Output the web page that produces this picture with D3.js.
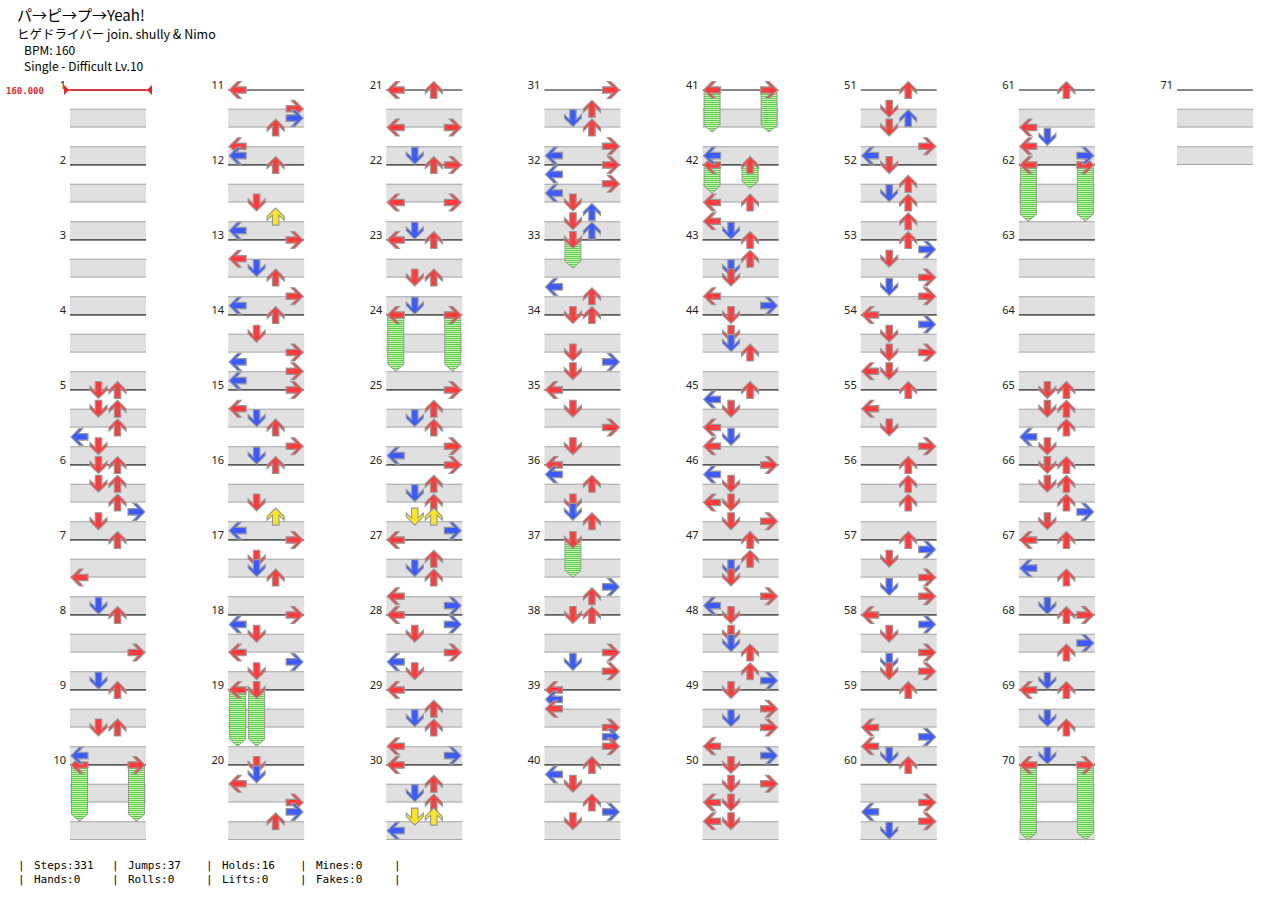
<!DOCTYPE html>
<html><head><meta charset="utf-8">
<script src="https://cdn.jsdelivr.net/npm/d3@7"></script>
<style>body{margin:0;background:#fff}svg{display:block}</style>
</head><body>
<script>
const titleLines = ["パ→ピ→プ→Yeah!", "ヒゲドライバー join. shully & Nimo", "BPM: 160", "Single - Difficult  Lv.10"];
const measureCount = 71;
const bpmLabel = "160.000";
// notes: [measure, 16th position, lane(0=L,1=D,2=U,3=R)]
const notes = [
[5,0,1],[5,0,2],[5,4,1],[5,4,2],[5,8,2],[5,10,0],[5,12,1],
[6,0,1],[6,0,2],[6,4,1],[6,4,2],[6,8,2],[6,10,3],[6,12,1],
[7,0,2],[7,8,0],[7,14,1],
[8,0,2],[8,8,3],[8,14,1],
[9,0,2],[9,8,1],[9,8,2],[9,14,0],
[11,0,0],[11,4,3],[11,6,3],[11,8,2],[11,12,0],[11,14,0],
[12,0,2],[12,8,1],[12,11,2],[12,14,0],
[13,0,3],[13,4,0],[13,6,1],[13,8,2],[13,12,3],[13,14,0],
[14,0,2],[14,4,1],[14,8,3],[14,10,0],[14,12,3],[14,14,0],
[15,0,3],[15,4,0],[15,6,1],[15,8,2],[15,12,3],[15,14,1],
[16,0,2],[16,8,1],[16,11,2],[16,14,0],
[17,0,3],[17,4,1],[17,6,1],[17,8,2],
[18,0,3],[18,2,0],[18,4,1],[18,8,0],[18,10,3],[18,12,1],
[20,0,1],[20,2,1],[20,4,0],[20,8,3],[20,10,3],[20,12,2],
[21,0,0],[21,0,2],[21,8,0],[21,8,3],[21,14,1],
[22,0,2],[22,0,3],[22,8,0],[22,8,3],[22,14,1],
[23,0,0],[23,0,2],[23,8,1],[23,8,2],[23,14,1],
[25,0,3],[25,4,2],[25,6,1],[25,8,2],[25,12,3],[25,14,0],
[26,0,3],[26,4,2],[26,6,1],[26,8,2],[26,11,1],[26,11,2],[26,14,3],
[27,0,0],[27,4,2],[27,6,1],[27,8,2],[27,12,0],[27,14,3],
[28,0,0],[28,2,3],[28,4,1],[28,8,3],[28,10,0],[28,12,1],
[29,0,0],[29,4,2],[29,6,1],[29,8,2],[29,12,0],[29,14,3],
[30,0,0],[30,4,2],[30,6,1],[30,8,2],[30,11,1],[30,11,2],[30,14,0],
[31,0,3],[31,4,2],[31,6,1],[31,8,2],[31,12,3],[31,14,0],
[32,0,3],[32,2,0],[32,4,3],[32,6,0],[32,8,1],[32,10,2],[32,12,1],[32,14,2],
[33,10,0],[33,12,2],
[34,0,1],[34,0,2],[34,8,1],[34,10,3],[34,12,1],
[35,0,0],[35,4,1],[35,8,3],[35,12,1],
[36,0,0],[36,2,0],[36,4,2],[36,8,1],[36,10,1],[36,12,2],
[37,10,3],[37,12,2],
[38,0,1],[38,0,2],[38,8,3],[38,10,1],[38,12,3],
[39,0,0],[39,2,0],[39,4,0],[39,8,3],[39,10,3],[39,12,3],
[40,0,2],[40,2,0],[40,4,1],[40,8,2],[40,10,3],[40,12,1],
[41,14,0],
[42,8,0],[42,8,2],[42,12,0],[42,14,1],
[43,0,2],[43,4,2],[43,6,1],[43,8,1],[43,12,0],[43,14,3],
[44,0,1],[44,4,1],[44,6,1],[44,8,2],
[45,0,2],[45,2,0],[45,4,1],[45,8,0],[45,10,1],[45,12,0],
[46,0,3],[46,2,0],[46,4,1],[46,8,0],[46,8,1],[46,12,1],[46,12,3],
[47,0,2],[47,4,2],[47,6,1],[47,8,1],[47,12,3],[47,14,0],
[48,0,1],[48,4,1],[48,6,1],[48,8,2],[48,12,2],[48,14,3],
[49,0,1],[49,4,3],[49,6,1],[49,8,3],[49,12,0],[49,14,3],
[50,0,1],[50,4,1],[50,4,3],[50,8,0],[50,8,1],[50,12,0],[50,12,1],
[51,0,2],[51,4,1],[51,6,2],[51,8,1],[51,12,3],[51,14,0],
[52,0,1],[52,4,2],[52,6,1],[52,8,2],[52,12,2],
[53,0,2],[53,2,3],[53,4,1],[53,8,3],[53,10,1],[53,12,3],
[54,0,0],[54,2,3],[54,4,1],[54,8,1],[54,8,3],[54,12,0],[54,12,1],
[55,0,2],[55,4,0],[55,8,1],[55,12,3],
[56,0,2],[56,4,2],[56,8,2],
[57,0,2],[57,2,3],[57,4,1],[57,8,3],[57,10,1],[57,12,3],
[58,0,0],[58,2,3],[58,4,1],[58,8,3],[58,10,1],[58,12,1],[58,12,3],
[59,0,2],[59,8,0],[59,10,3],[59,12,0],[59,14,1],
[60,0,2],[60,8,3],[60,10,0],[60,12,3],[60,14,1],
[61,0,2],[61,8,0],[61,10,1],[61,12,0],[61,14,3],
[65,0,1],[65,0,2],[65,4,1],[65,4,2],[65,8,2],[65,10,0],[65,12,1],
[66,0,1],[66,0,2],[66,4,1],[66,4,2],[66,8,2],[66,10,3],[66,12,1],
[67,0,0],[67,0,2],[67,6,0],[67,8,2],[67,14,1],
[68,0,2],[68,0,3],[68,6,3],[68,8,2],[68,14,1],
[69,0,0],[69,0,2],[69,6,1],[69,8,2],[69,14,1]
];
// holds: [measure, 16th position, lane, length in 16ths]
const holds = [
[10,0,0,12],[10,0,3,12],[19,0,0,12],[19,0,1,12],[24,0,0,12],[24,0,3,12],
[33,0,1,6],[37,0,1,8],[41,0,0,9],[41,0,3,9],[42,0,0,6],[42,0,2,5],
[62,0,0,12],[62,0,3,12],[70,0,0,16],[70,0,3,16]
];
const statsRow1 = ["Steps:331","Jumps:37","Holds:16","Mines:0"];
const statsRow2 = ["Hands:0","Rolls:0","Lifts:0","Fakes:0"];

const W=1280,H=901;
const svg=d3.select("body").append("svg").attr("width",W).attr("height",H);
const defs=svg.append("defs");
const pat=defs.append("pattern").attr("id","hp").attr("patternUnits","userSpaceOnUse").attr("width",4).attr("height",2);
pat.append("rect").attr("width",4).attr("height",2).attr("fill","#c8f5b0");
pat.append("rect").attr("width",4).attr("height",1).attr("fill","#5ccf4a");

const perCol=10;
const colX=d3.scaleLinear().domain([0,7]).range([70,1177]);
const yT=d3.scaleLinear().domain([0,10]).range([90,840]);
const laneX=d3.scaleBand().domain([0,1,2,3]).range([0,76]);
const colW=76, beat=75/4;
function pos(m,p){const c=Math.floor((m-1)/perCol);const t=(m-1)%perCol+p/16;return {x:colX(c),y:yT(t)};}

// title
const tt=svg.append("g").attr("font-family","'Noto Sans CJK JP','Noto Sans',sans-serif").attr("fill","#000");
tt.append("text").attr("x",17).attr("y",21).attr("font-size",15).text(titleLines[0]);
tt.append("text").attr("x",17).attr("y",39).attr("font-size",12.5).text(titleLines[1]);
tt.append("text").attr("x",24).attr("y",55).attr("font-size",12).text(titleLines[2]);
tt.append("text").attr("x",24).attr("y",71).attr("font-size",12).text(titleLines[3]);

// measures
const mg=svg.append("g");
d3.range(1,measureCount+1).forEach(m=>{
  const p=pos(m,0);
  [1,3].forEach(b=>{
    mg.append("rect").attr("x",p.x).attr("y",p.y+b*beat).attr("width",colW).attr("height",beat).attr("fill","#e0e0e0");
    mg.append("line").attr("x1",p.x).attr("x2",p.x+colW).attr("y1",p.y+b*beat+0.5).attr("y2",p.y+b*beat+0.5).attr("stroke","#a8a8a8");
    mg.append("line").attr("x1",p.x).attr("x2",p.x+colW).attr("y1",p.y+(b+1)*beat-0.5).attr("y2",p.y+(b+1)*beat-0.5).attr("stroke","#a8a8a8");
  });
  mg.append("line").attr("x1",p.x).attr("x2",p.x+colW).attr("y1",p.y).attr("y2",p.y).attr("stroke","#111").attr("stroke-width",1.2);
  mg.append("text").attr("x",p.x-4).attr("y",p.y-1).attr("text-anchor","end").attr("font-family","'Noto Sans',sans-serif").attr("font-size",11).attr("fill","#222").text(m);
});
// bpm marker
const b0=pos(1,0);
svg.append("line").attr("x1",b0.x-6).attr("x2",b0.x+82).attr("y1",b0.y).attr("y2",b0.y).attr("stroke","#e8242a").attr("stroke-width",1.3);
svg.append("path").attr("d",`M${b0.x-6},${b0.y-5}L${b0.x-1},${b0.y}L${b0.x-6},${b0.y+5}Z`).attr("fill","#e8242a");
svg.append("path").attr("d",`M${b0.x+82},${b0.y-5}L${b0.x+77},${b0.y}L${b0.x+82},${b0.y+5}Z`).attr("fill","#e8242a");
svg.append("text").attr("x",6).attr("y",b0.y+4).attr("font-family","'DejaVu Sans Mono',monospace").attr("font-size",9).attr("font-weight","bold").attr("fill","#e8242a").text(bpmLabel);

const arrowPath="M0,-8.5L8.5,0L8.5,3.5L3.2,-1.5L3.2,8.5L-3.2,8.5L-3.2,-1.5L-8.5,3.5L-8.5,0Z";
const rot=[-90,180,0,90];
function col(p){return p%4===0?"#ff3b3b":(p%4===2?"#3b5bff":"#ffe81a");}
const ng=svg.append("g");
// holds
holds.forEach(h=>{
  const s=pos(h[0],h[1]);const cx=s.x+laneX(h[2])+laneX.bandwidth()/2;
  const ey=s.y+h[3]/16*75;
  ng.append("path").attr("d",`M${cx-8},${s.y}L${cx+8},${s.y}L${cx+8},${ey-7}L${cx},${ey}L${cx-8},${ey-7}Z`)
    .attr("fill","url(#hp)").attr("stroke","#999").attr("stroke-width",1);
  ng.append("path").attr("d",arrowPath).attr("transform",`translate(${cx},${s.y}) rotate(${rot[h[2]]})`).attr("fill","#ff3b3b").attr("stroke","#999").attr("stroke-width",1.2);
});
notes.forEach(n=>{
  const s=pos(n[0],n[1]);const cx=s.x+laneX(n[2])+laneX.bandwidth()/2;
  ng.append("path").attr("d",arrowPath).attr("transform",`translate(${cx},${s.y}) rotate(${rot[n[2]]})`).attr("fill",col(n[1])).attr("stroke","#999").attr("stroke-width",1.2);
});

// stats
const sg=svg.append("g").attr("font-family","'DejaVu Sans Mono',monospace").attr("font-size",11).attr("fill","#000");
const sx=d3.scaleLinear().domain([0,4]).range([18,394]);
[0,1,2,3,4].forEach(i=>{
  sg.append("text").attr("x",sx(i)).attr("y",869).text("|");
  sg.append("text").attr("x",sx(i)).attr("y",883).text("|");
});
statsRow1.forEach((t,i)=>sg.append("text").attr("x",sx(i)+16).attr("y",869).text(t));
statsRow2.forEach((t,i)=>sg.append("text").attr("x",sx(i)+16).attr("y",883).text(t));
</script>
</body></html>
